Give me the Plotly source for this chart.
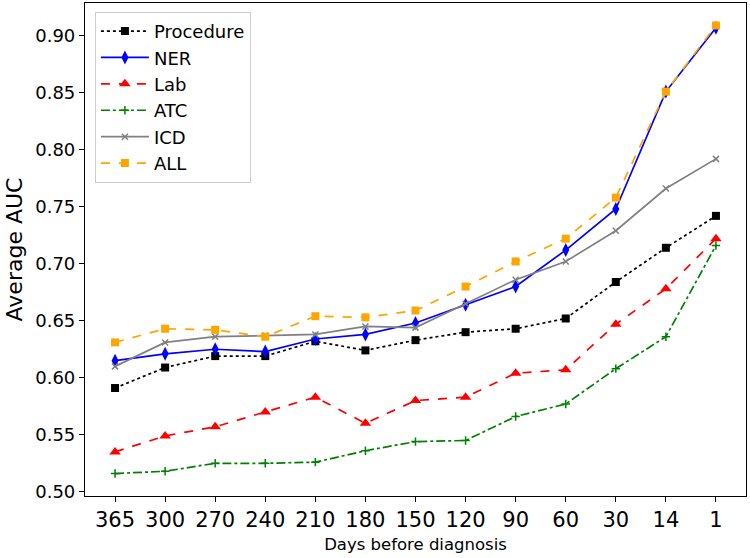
import plotly.graph_objects as go

days = ["365", "300", "270", "240", "210", "180", "150", "120", "90", "60", "30", "14", "1"]
procedure = [0.591, 0.609, 0.619, 0.619, 0.632, 0.624, 0.633, 0.640, 0.643, 0.652, 0.684, 0.714, 0.742]
ner = [0.615, 0.621, 0.625, 0.623, 0.634, 0.638, 0.648, 0.664, 0.680, 0.712, 0.748, 0.851, 0.907]
lab = [0.535, 0.549, 0.557, 0.570, 0.583, 0.560, 0.580, 0.583, 0.604, 0.607, 0.647, 0.678, 0.722]
atc = [0.516, 0.518, 0.525, 0.525, 0.526, 0.536, 0.544, 0.545, 0.566, 0.577, 0.608, 0.636, 0.716]
icd = [0.610, 0.631, 0.636, 0.637, 0.638, 0.645, 0.644, 0.665, 0.686, 0.702, 0.729, 0.766, 0.792]
all_ = [0.631, 0.643, 0.642, 0.636, 0.654, 0.653, 0.659, 0.680, 0.702, 0.722, 0.758, 0.851, 0.909]
yticks = [0.50, 0.55, 0.60, 0.65, 0.70, 0.75, 0.80, 0.85, 0.90]

series = [
    ("Procedure", procedure, "black", "dot", "square", 8),
    ("NER", ner, "blue", "solid", "diamond-tall", 10),
    ("Lab", lab, "red", "dash", "triangle-up", 10),
    ("ATC", atc, "green", "dashdot", "cross-thin", 6),
    ("ICD", icd, "gray", "solid", "x-thin", 6),
    ("ALL", all_, "orange", "dash", "square", 8),
]

fig = go.Figure()
for name, vals, color, dash, sym, size in series:
    marker = dict(symbol=sym, size=size, color=color)
    if sym.endswith("-thin"):
        marker["line"] = dict(color=color, width=1.5)
    fig.add_trace(go.Scatter(
        x=days, y=vals, name=name, mode="lines+markers",
        line=dict(color=color, width=1.7, dash=dash),
        marker=marker,
    ))

fig.update_layout(
    width=750, height=558,
    margin=dict(l=85, r=4, t=3, b=62),
    plot_bgcolor="white", paper_bgcolor="white",
    font=dict(family="DejaVu Sans", color="black"),
    legend=dict(
        x=0.015, y=0.982, xanchor="left", yanchor="top",
        bordercolor="#cccccc", borderwidth=1, bgcolor="rgba(255,255,255,0.8)",
        font=dict(size=18, family="DejaVu Sans"),
        tracegroupgap=0, itemwidth=48,
    ),
    showlegend=True,
)
fig.update_xaxes(
    type="category", range=[-0.6, 12.6], automargin=False,
    showline=True, linecolor="black", linewidth=1.2, mirror=True,
    ticks="outside", ticklen=5, tickcolor="black", showgrid=False,
    tickfont=dict(size=21),
    title=dict(text="Days before diagnosis", font=dict(size=16.5), standoff=7),
)
fig.update_yaxes(
    range=[0.4963, 0.9287], automargin=False,
    tickvals=yticks,
    ticktext=[f"{v:.2f}" for v in yticks],
    showline=True, linecolor="black", linewidth=1.2, mirror=True,
    ticks="outside", ticklen=5, tickcolor="black", showgrid=False, zeroline=False,
    tickfont=dict(size=18),
    title=dict(text="Average AUC", font=dict(size=22), standoff=6),
)

fig.write_html(
    "out.html",
    config={"displayModeBar": False},
    post_script="document.body.style.margin='0';document.body.style.overflow='hidden';",
)
